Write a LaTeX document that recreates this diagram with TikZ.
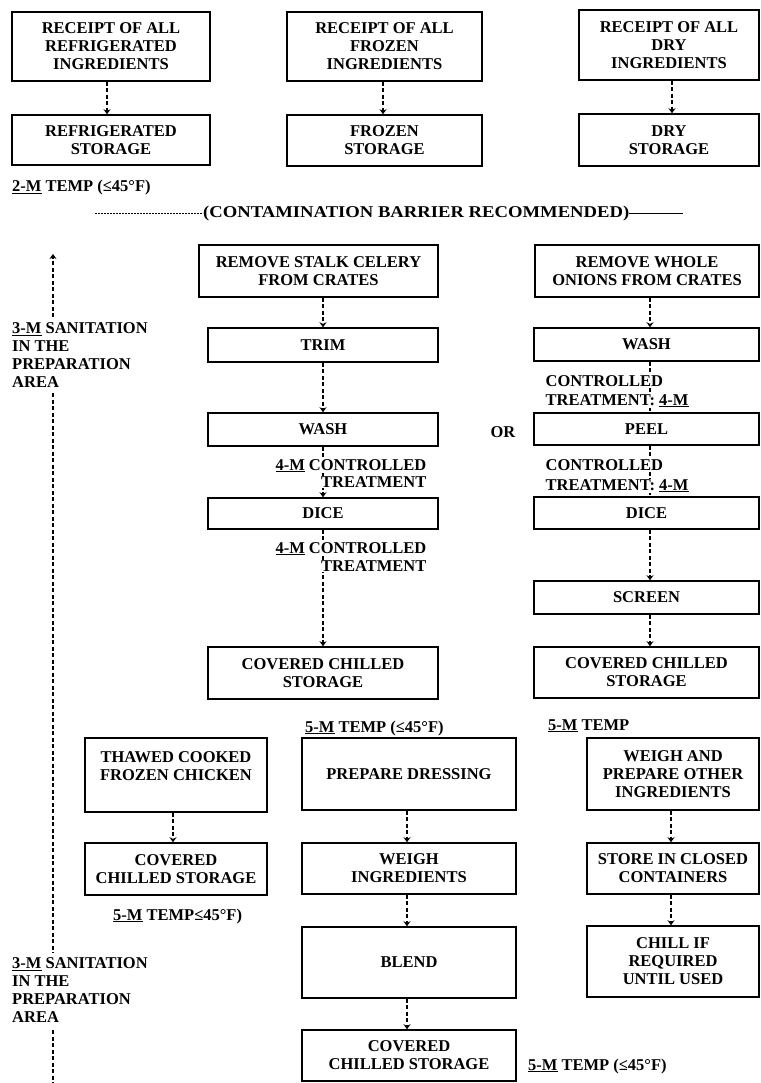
\documentclass[tikz,border=0pt]{standalone}
\usepackage{fontspec}
\usepackage{graphicx}
\setmainfont{Liberation Serif}
\usetikzlibrary{arrows.meta}
\begin{document}
\begin{tikzpicture}[x=1pt,y=-1pt,
  box/.style={draw, line width=1.5pt, align=center, font=\fontsize{16.5}{18}\selectfont\bfseries, inner sep=0pt},
  sz/.style 2 args={minimum width=#1pt, minimum height=#2pt},
  lbl/.style={font=\fontsize{16.5}{18}\selectfont\bfseries, inner sep=0pt},
  wlbl/.style={lbl, fill=white, inner sep=0.5pt},
  flow/.style={line width=1.3pt, dash pattern=on 4pt off 2.5pt, -{Stealth[length=5pt,width=7pt]}},
  plainflow/.style={line width=1.3pt, dash pattern=on 4pt off 2.5pt},
  barrier/.style={line width=0.9pt},
]
\useasboundingbox (0,0) rectangle (760,1083);

% top row
\node[box, sz={198}{69}] (a1) at (111,46.5) {RECEIPT OF ALL\\REFRIGERATED\\INGREDIENTS};
\node[box, sz={195}{69}] (b1) at (384.5,46.5) {RECEIPT OF ALL\\FROZEN\\INGREDIENTS};
\node[box, sz={180}{70}] (c1) at (669,45) {RECEIPT OF ALL\\DRY\\INGREDIENTS};
\node[box, sz={198}{50}] (a2) at (111,140) {REFRIGERATED\\STORAGE};
\node[box, sz={195}{51}] (b2) at (384.5,140.5) {FROZEN\\STORAGE};
\node[box, sz={180}{52}] (c2) at (669,140) {DRY\\STORAGE};

% celery column
\node[box, sz={239}{52}] (r1) at (318.5,271) {REMOVE STALK CELERY\\FROM CRATES};
\node[box, sz={230}{34}] (trim) at (323,345) {TRIM};
\node[box, sz={230}{33}] (wash) at (323,429.5) {WASH};
\node[box, sz={230}{31}] (dice) at (323,513.5) {DICE};
\node[box, sz={230}{52}] (ccs1) at (323,673) {COVERED CHILLED\\STORAGE};

% onion column
\node[box, sz={224}{52}] (o1) at (647,271) {REMOVE WHOLE\\ONIONS FROM CRATES};
\node[box, sz={225}{33}] (wash2) at (646.5,344.5) {WASH};
\node[box, sz={225}{32}] (peel) at (646.5,429) {PEEL};
\node[box, sz={225}{32}] (dice2) at (646.5,513) {DICE};
\node[box, sz={225}{33}] (screen) at (646.5,597.5) {SCREEN};
\node[box, sz={225}{51}] (ccs2) at (646.5,672.5) {COVERED CHILLED\\STORAGE};

% lower part
\node[box, sz={182}{74}] (chick) at (176,775) {THAWED COOKED\\FROZEN CHICKEN\\\mbox{}};
\node[box, sz={182}{52}] (ccs3) at (176,869) {COVERED\\CHILLED STORAGE};
\node[box, sz={214}{72}] (prep) at (409,774) {PREPARE DRESSING};
\node[box, sz={214}{51}] (weigh) at (409,868.5) {WEIGH\\INGREDIENTS};
\node[box, sz={214}{71}] (blend) at (409,962.5) {BLEND};
\node[box, sz={214}{51}] (ccs4) at (409,1055.5) {COVERED\\CHILLED STORAGE};
\node[box, sz={172}{72}] (other) at (673,774) {WEIGH AND\\PREPARE OTHER\\INGREDIENTS};
\node[box, sz={172}{51}] (store) at (673,868.5) {STORE IN CLOSED\\CONTAINERS};
\node[box, sz={172}{71}] (chill) at (673,961.5) {CHILL IF\\REQUIRED\\UNTIL USED};

% connectors, top
\draw[flow] ([xshift=-4pt]a1.south) -- ([xshift=-4pt]a2.north);
\draw[flow] ([xshift=-1.5pt]b1.south) -- ([xshift=-1.5pt]b2.north);
\draw[flow] ([xshift=3pt]c1.south) -- ([xshift=3pt]c2.north);

% celery
\draw[flow] (r1.south -| trim.north) -- (trim.north);
\draw[flow] (trim) -- (wash);
\draw[flow] (wash) -- (dice);
\draw[flow] (dice) -- (ccs1);

% onion
\draw[flow] ([xshift=3pt]o1.south) -- ([xshift=3.5pt]wash2.north);
\draw[plainflow] ([xshift=3.5pt]wash2.south) -- ([xshift=3.5pt]peel.north);
\draw[plainflow] ([xshift=3.5pt]peel.south) -- ([xshift=3.5pt]dice2.north);
\draw[flow] ([xshift=3.5pt]dice2.south) -- ([xshift=3.5pt]screen.north);
\draw[flow] ([xshift=3.5pt]screen.south) -- ([xshift=3.5pt]ccs2.north);

% lower
\draw[flow] ([xshift=-3pt]chick.south) -- ([xshift=-3pt]ccs3.north);
\draw[flow] ([xshift=-2pt]prep.south) -- ([xshift=-2pt]weigh.north);
\draw[flow] ([xshift=-2pt]weigh.south) -- ([xshift=-2pt]blend.north);
\draw[flow] ([xshift=-2pt]blend.south) -- ([xshift=-2pt]ccs4.north);
\draw[flow] ([xshift=-2pt]other.south) -- ([xshift=-2pt]store.north);
\draw[flow] ([xshift=-2pt]store.south) -- ([xshift=-2pt]chill.north);

% labels
\node[lbl, anchor=base west] (t2m) at (12,192) {\underline{2-M} TEMP (≤45°F)};
\node[lbl, anchor=base west] (contam) at (203,218) {\scalebox{1.13}[1]{(CONTAMINATION BARRIER RECOMMENDED)}};
\coordinate (bl) at (95,213);
\coordinate (br) at (683,213);
\draw[barrier, dash pattern=on 2pt off 1pt] (bl) -- (bl -| contam.west);
\draw[barrier] (br -| contam.east) -- (br);

\node[wlbl, anchor=base east] (cel1a) at (427,470) {\underline{4-M} CONTROLLED};
\node[wlbl, anchor=base east] (cel1b) at (427,487) {TREATMENT};
\node[wlbl, anchor=base east] (cel2a) at (427,553) {\underline{4-M} CONTROLLED};
\node[wlbl, anchor=base east] (cel2b) at (427,571) {TREATMENT};

\node[wlbl, anchor=base west] (on1a) at (545,386) {CONTROLLED};
\node[wlbl, anchor=base west] (on1b) at (545,405) {TREATMENT: \underline{4-M}};
\node[wlbl, anchor=base west] (on2a) at (545,470) {CONTROLLED};
\node[wlbl, anchor=base west] (on2b) at (545,490) {TREATMENT: \underline{4-M}};

\node[lbl, anchor=base] (or) at (503,437) {OR};

\node[lbl, anchor=base west] (t5a) at (305,732) {\underline{5-M} TEMP (≤45°F)};
\node[lbl, anchor=base west] (t5b) at (548,730) {\underline{5-M} TEMP};
\node[lbl, anchor=base west] (t5c) at (113,920) {\underline{5-M} TEMP≤45°F)};
\node[lbl, anchor=base west] (t5d) at (528,1070) {\underline{5-M} TEMP (≤45°F)};

\node[lbl, anchor=north west, align=left] (san1) at (12,322.5) {\underline{3-M} SANITATION\\IN THE\\PREPARATION\\AREA};
\node[lbl, anchor=north west, align=left] (san2) at (12,957.5) {\underline{3-M} SANITATION\\IN THE\\PREPARATION\\AREA};

% left sanitation line
\coordinate (ltop) at (53,254);
\coordinate (l1) at (53,317);
\coordinate (l2) at (53,393);
\coordinate (l3) at (53,953);
\coordinate (l4) at (53,1030);
\coordinate (l5) at (53,1083);
\draw[flow] (l1) -- (ltop);
\draw[plainflow] (l2) -- (l3);
\draw[plainflow] (l4) -- (l5);
\end{tikzpicture}
\end{document}
